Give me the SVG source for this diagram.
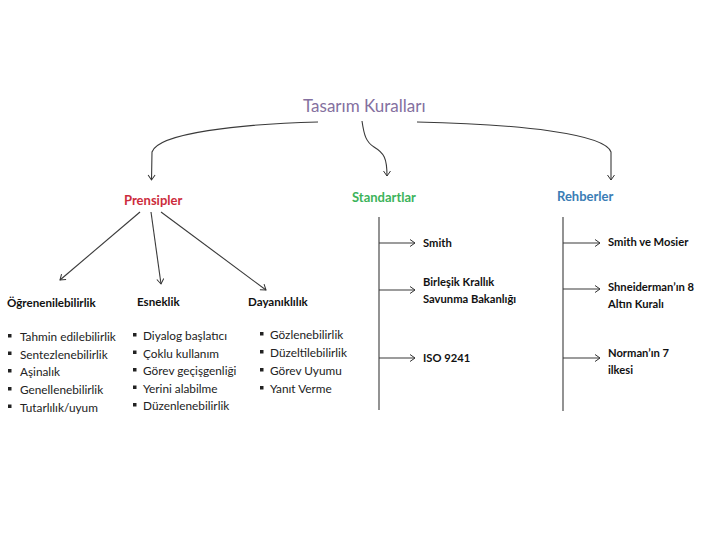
<svg xmlns="http://www.w3.org/2000/svg" width="720" height="540" viewBox="0 0 720 540">
<defs>
<marker id="arr" markerUnits="userSpaceOnUse" markerWidth="10" markerHeight="10" refX="6" refY="4" orient="auto">
<path d="M1,0.5 L6,4 L1,7.5" fill="none" stroke="#333" stroke-width="1"/>
</marker>
<style>
.c{fill:none;stroke:#3a3a3a;stroke-width:1.1}
.t{font-family:Lato,"Open Sans","Liberation Sans",sans-serif}
.title{font-size:17px;fill:#8470a0}
.h{font-size:13px;font-weight:bold}
.sh{font-size:11.6px;font-weight:bold;fill:#111}
.it{font-size:11.8px;fill:#222}
.b{font-size:11.2px;font-weight:bold;fill:#111}
.bl{fill:#222}
</style>
</defs>
<rect width="720" height="540" fill="#fff"/>
<g id="connectors">
<path class="c" d="M318,122 C240,124 158,133 152,152 L151.5,180" marker-end="url(#arr)"/>
<path class="c" d="M362,121 C364,135 366,142 374,147 C384,153 387,158 387,176" marker-end="url(#arr)"/>
<path class="c" d="M417,122 C520,124 605,134 611,152 L611,180" marker-end="url(#arr)"/>
<path class="c" d="M140,212 L60,280" marker-end="url(#arr)"/>
<path class="c" d="M151,212 L161,284" marker-end="url(#arr)"/>
<path class="c" d="M161,212 L266,290" marker-end="url(#arr)"/>
<path class="c" d="M379,217 L379,410"/>
<path class="c" d="M379,243 L415,243" marker-end="url(#arr)"/>
<path class="c" d="M379,290 L415,290" marker-end="url(#arr)"/>
<path class="c" d="M379,358 L415,358" marker-end="url(#arr)"/>
<path class="c" d="M563,217 L563,411"/>
<path class="c" d="M563,243 L600,243" marker-end="url(#arr)"/>
<path class="c" d="M563,289 L600,289" marker-end="url(#arr)"/>
<path class="c" d="M563,358 L600,358" marker-end="url(#arr)"/>
</g>
<g id="title"><text class="t title" x="303" y="112">Tasarım Kuralları</text></g>
<g id="prensipler"><text class="t h" x="124" y="205" fill="#cc2c3c">Prensipler</text></g>
<g id="standartlar"><text class="t h" x="352" y="202" fill="#3cb35a">Standartlar</text></g>
<g id="rehberler"><text class="t h" x="557" y="201" fill="#3a7db5">Rehberler</text></g>
<g id="ogrenenilebilirlik">
<text class="t sh" x="7" y="307">Öğrenenilebilirlik</text>
<rect class="bl" x="8" y="334" width="3.5" height="3.5"/>
<rect class="bl" x="8" y="351.5" width="3.5" height="3.5"/>
<rect class="bl" x="8" y="369" width="3.5" height="3.5"/>
<rect class="bl" x="8" y="387" width="3.5" height="3.5"/>
<rect class="bl" x="8" y="404.5" width="3.5" height="3.5"/>
<text class="t it" x="20" y="341">Tahmin edilebilirlik</text>
<text class="t it" x="20" y="358.5">Sentezlenebilirlik</text>
<text class="t it" x="20" y="376">Aşinalık</text>
<text class="t it" x="20" y="394">Genellenebilirlik</text>
<text class="t it" x="20" y="411.5">Tutarlılık/uyum</text>
</g>
<g id="esneklik">
<text class="t sh" x="137" y="306">Esneklik</text>
<rect class="bl" x="133" y="333" width="3.5" height="3.5"/>
<rect class="bl" x="133" y="350.5" width="3.5" height="3.5"/>
<rect class="bl" x="133" y="368" width="3.5" height="3.5"/>
<rect class="bl" x="133" y="385.5" width="3.5" height="3.5"/>
<rect class="bl" x="133" y="403" width="3.5" height="3.5"/>
<text class="t it" x="143" y="340">Diyalog başlatıcı</text>
<text class="t it" x="143" y="357.5">Çoklu kullanım</text>
<text class="t it" x="143" y="375">Görev geçişgenliği</text>
<text class="t it" x="143" y="392.5">Yerini alabilme</text>
<text class="t it" x="143" y="410">Düzenlenebilirlik</text>
</g>
<g id="dayaniklilik">
<text class="t sh" x="248" y="306">Dayanıklılık</text>
<rect class="bl" x="260" y="332" width="3.5" height="3.5"/>
<rect class="bl" x="260" y="350" width="3.5" height="3.5"/>
<rect class="bl" x="260" y="368" width="3.5" height="3.5"/>
<rect class="bl" x="260" y="386" width="3.5" height="3.5"/>
<text class="t it" x="270" y="339">Gözlenebilirlik</text>
<text class="t it" x="270" y="357">Düzeltilebilirlik</text>
<text class="t it" x="270" y="375">Görev Uyumu</text>
<text class="t it" x="270" y="393">Yanıt Verme</text>
</g>
<g id="smith"><text class="t b" x="423" y="247">Smith</text></g>
<g id="birlesik"><text class="t b" x="423" y="286">Birleşik Krallık</text><text class="t b" x="423" y="303">Savunma Bakanlığı</text></g>
<g id="iso"><text class="t b" x="423" y="362">ISO 9241</text></g>
<g id="smith-mosier"><text class="t b" x="608" y="246">Smith ve Mosier</text></g>
<g id="shneiderman"><text class="t b" x="608" y="291">Shneiderman’ın 8</text><text class="t b" x="608" y="308">Altın Kuralı</text></g>
<g id="norman"><text class="t b" x="608" y="357">Norman’ın 7</text><text class="t b" x="608" y="374">ilkesi</text></g>
</svg>
